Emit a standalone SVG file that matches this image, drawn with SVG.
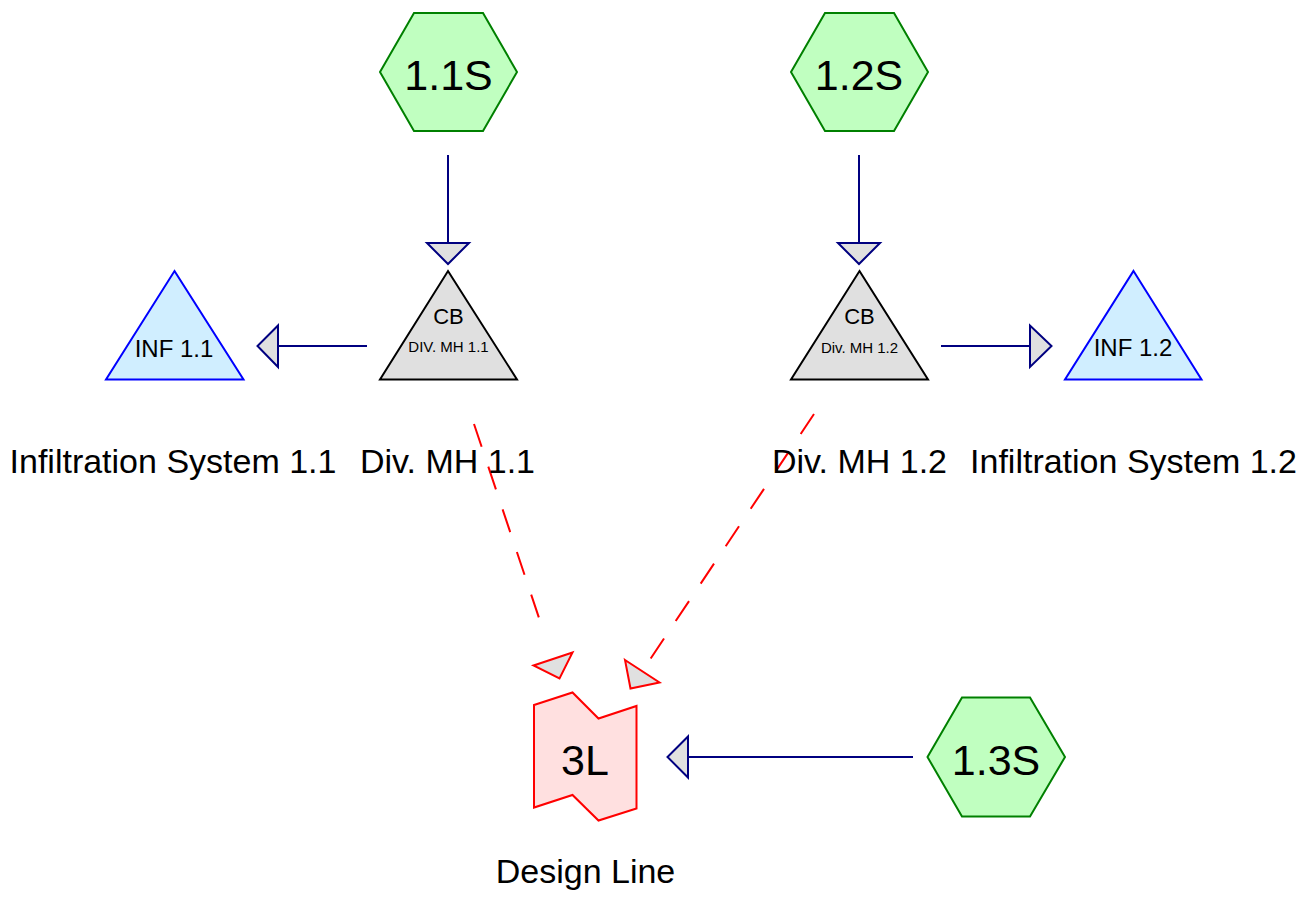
<svg xmlns="http://www.w3.org/2000/svg" width="1307" height="898" viewBox="0 0 1307 898">
<style>
text{font-family:"Liberation Sans",Arial,sans-serif;fill:#000;text-anchor:middle}
.hex{fill:#C0FFC0;stroke:#008000;stroke-width:2}
.cb{fill:#E0E0E0;stroke:#000;stroke-width:2}
.inf{fill:#D0EEFF;stroke:#0000FF;stroke-width:2}
.dl{fill:#FFE0E0;stroke:#FF0000;stroke-width:2}
.ln{stroke:#000080;stroke-width:2;fill:none}
.ah{fill:#E0E0E0;stroke:#000080;stroke-width:2;stroke-linejoin:miter}
.dash{stroke:#FF0000;stroke-width:2;fill:none;stroke-dasharray:24 21}
.ahr{fill:#E0E0E0;stroke:#FF0000;stroke-width:2}
.big{font-size:43px}
.lbl{font-size:34px}
.cbt{font-size:22px}
.sub{font-size:15px}
.inft{font-size:24px}
</style>
<rect width="1307" height="898" fill="#FFFFFF"/>
<g id="connectors">
<line class="ln" x1="448" y1="155" x2="448" y2="243"/>
<polygon class="ah" points="427,243 469,243 448,264"/>
<line class="ln" x1="859" y1="155" x2="859" y2="243"/>
<polygon class="ah" points="838,243 880,243 859,264"/>
<line class="ln" x1="367" y1="346" x2="278" y2="346"/>
<polygon class="ah" points="278,325.5 278,367 257.5,346"/>
<line class="ln" x1="941" y1="346" x2="1030" y2="346"/>
<polygon class="ah" points="1030,325.5 1030,367 1051.5,346"/>
<line class="ln" x1="913" y1="757" x2="688" y2="757"/>
<polygon class="ah" points="688,736.5 688,777.5 667.5,757"/>
<line class="dash" x1="474" y1="424" x2="539.5" y2="619.5"/>
<polygon class="ahr" points="533.5,665.5 572.5,652.5 559.5,678.5"/>
<line class="dash" x1="814" y1="414" x2="649" y2="661"/>
<polygon class="ahr" points="625,660 659.5,682.5 630.5,688.5"/>
</g>
<g id="node-1.1S">
<polygon class="hex" points="380,72 414,13 483,13 517,72 483,131 414,131"/>
<text class="big" x="448.5" y="90">1.1S</text>
</g>
<g id="node-1.2S">
<polygon class="hex" points="791,72 825,13 894,13 928,72 894,131 825,131"/>
<text class="big" x="859" y="90">1.2S</text>
</g>
<g id="node-1.3S">
<polygon class="hex" points="927.5,757 962,697.5 1030,697.5 1065,757 1030,816.5 962,816.5"/>
<text class="big" x="996" y="775">1.3S</text>
</g>
<g id="node-CB1.1">
<polygon class="cb" points="448,271 517,379.5 380,379.5"/>
<text class="cbt" x="448.5" y="324">CB</text>
<text class="sub" x="448.5" y="352">DIV. MH 1.1</text>
<text class="lbl" x="447.5" y="472.5">Div. MH 1.1</text>
</g>
<g id="node-CB1.2">
<polygon class="cb" points="859.5,271 928,379.5 791,379.5"/>
<text class="cbt" x="859.5" y="324">CB</text>
<text class="sub" x="859.5" y="352.5">Div. MH 1.2</text>
<text class="lbl" x="859.5" y="472.5">Div. MH 1.2</text>
</g>
<g id="node-INF1.1">
<polygon class="inf" points="174.5,271 243.5,379.5 106,379.5"/>
<text class="inft" x="174" y="356.5">INF 1.1</text>
<text class="lbl" x="173" y="472.5">Infiltration System 1.1</text>
</g>
<g id="node-INF1.2">
<polygon class="inf" points="1133.5,271 1201.5,379.5 1065,379.5"/>
<text class="inft" x="1133" y="356">INF 1.2</text>
<text class="lbl" x="1133.5" y="472.5">Infiltration System 1.2</text>
</g>
<g id="node-3L">
<polygon class="dl" points="534,705 572.5,692.5 598.5,718.5 636.5,706 636.5,808.5 598.5,820.5 572.5,795 534,807.5"/>
<text class="big" x="585" y="775">3L</text>
<text class="lbl" x="585.5" y="882.5">Design Line</text>
</g>
</svg>
